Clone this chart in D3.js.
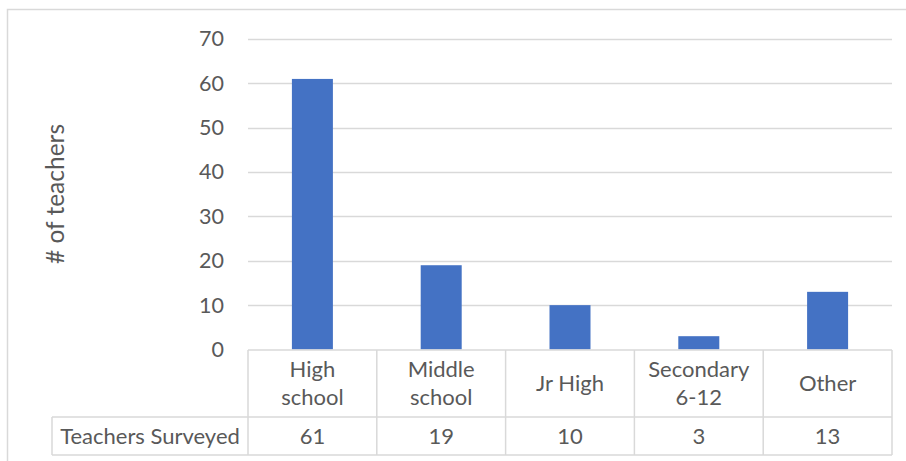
<!DOCTYPE html>
<html><head><meta charset="utf-8">
<script src="https://cdn.jsdelivr.net/npm/d3@7"></script>
<style>html,body{margin:0;padding:0;background:#fff}svg{display:block}text{font-family:Lato,"Open Sans",sans-serif;fill:#595959}</style>
</head><body><svg id="c" width="906" height="461"></svg>
<script>
const categories = [["High","school"],["Middle","school"],["Jr High"],["Secondary","6-12"],["Other"]];
const values = [61, 19, 10, 3, 13];
const seriesName = "Teachers Surveyed";
const yTicks = [0,10,20,30,40,50,60,70];
const yTitle = "# of teachers";

const svg = d3.select("#c");
const grid = "#d9d9d9";
const plotLeft = 248, plotRight = 892, plotTop = 39, zeroY = 349.5;
const x = d3.scaleBand().domain(d3.range(values.length)).range([plotLeft, plotRight]).paddingInner(0).paddingOuter(0);
const y = d3.scaleLinear().domain([0,70]).range([zeroY, plotTop]);

// chart border
svg.append("path").attr("d","M7.5,470 V9.5 H920").attr("fill","none").attr("stroke",grid).attr("stroke-width",1.5);

// gridlines
svg.append("g").selectAll("line").data(yTicks.filter(d=>d>0)).join("line")
  .attr("x1",plotLeft).attr("x2",plotRight).attr("y1",d=>Math.round(y(d))+0.5).attr("y2",d=>Math.round(y(d))+0.5)
  .attr("stroke",grid).attr("stroke-width",1.3);

// y axis labels
const yAxis = d3.axisLeft(y).tickValues(yTicks).tickSize(0).tickPadding(0);
const ya = svg.append("g").attr("transform",`translate(224,0)`).call(yAxis);
ya.select(".domain").remove();
ya.selectAll("text").attr("font-size",21.5).attr("fill","#595959").style("font-family","Lato");

// y title
svg.append("text").attr("transform","translate(63.5,194) rotate(-90)").attr("text-anchor","middle")
  .attr("font-size",24.5).text(yTitle);

// bars
const bw = 41;
svg.append("g").selectAll("rect").data(values).join("rect")
  .attr("x",(d,i)=>x(i)+x.bandwidth()/2-bw/2).attr("width",bw)
  .attr("y",d=>y(d)).attr("height",d=>zeroY-y(d)).attr("fill","#4472C4");

// data table
const rowTop = 350, rowMid = 417, rowBot = 455, tblLeft = 52;
const tg = svg.append("g").attr("stroke",grid).attr("stroke-width",1.5);
tg.append("line").attr("x1",plotLeft).attr("x2",plotRight).attr("y1",rowTop).attr("y2",rowTop);
tg.append("line").attr("x1",tblLeft).attr("x2",plotRight).attr("y1",rowMid).attr("y2",rowMid);
tg.append("line").attr("x1",tblLeft).attr("x2",plotRight).attr("y1",rowBot).attr("y2",rowBot);
tg.append("line").attr("x1",tblLeft).attr("x2",tblLeft).attr("y1",rowMid).attr("y2",rowBot);
tg.selectAll(".v").data(d3.range(values.length+1)).join("line")
  .attr("x1",i=>i<values.length?x(i):plotRight).attr("x2",i=>i<values.length?x(i):plotRight)
  .attr("y1",rowTop).attr("y2",rowBot);

// category labels
const cy = (rowTop+rowMid)/2;
svg.append("g").selectAll("text").data(categories).join("text")
  .attr("text-anchor","middle").attr("font-size",22)
  .each(function(lines,i){
    const t = d3.select(this);
    const n = lines.length, lh = 28;
    lines.forEach((s,k)=>{
      t.append("tspan").attr("x",x(i)+x.bandwidth()/2)
        .attr("y",cy + (k-(n-1)/2)*lh).attr("dy","0.35em").text(s);
    });
  });

// values row
const vy = (rowMid+rowBot)/2;
svg.append("g").selectAll("text").data(values).join("text")
  .attr("text-anchor","middle").attr("font-size",22)
  .attr("x",(d,i)=>x(i)+x.bandwidth()/2).attr("y",vy).attr("dy","0.35em").text(d=>d);
svg.append("text").attr("text-anchor","middle").attr("font-size",22)
  .attr("x",(tblLeft+plotLeft)/2).attr("y",vy).attr("dy","0.35em").text(seriesName);
</script></body></html>
